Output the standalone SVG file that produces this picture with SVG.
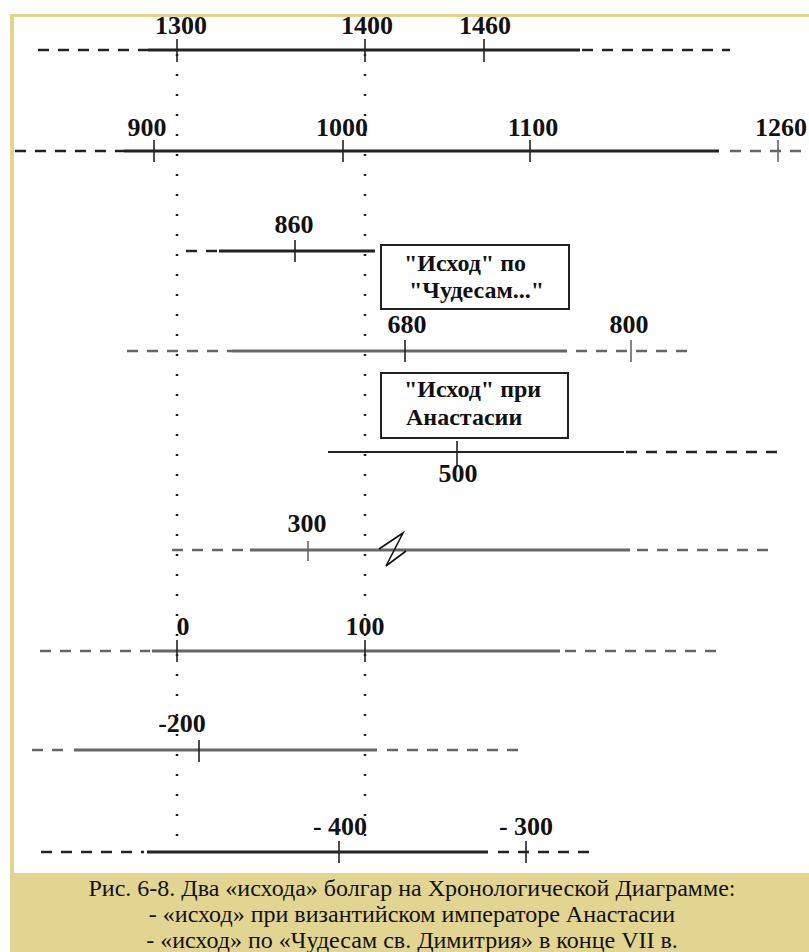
<svg xmlns="http://www.w3.org/2000/svg" width="809" height="952" viewBox="0 0 809 952">
<style>
.solid{stroke-width:3;fill:none}
.dash{stroke-width:2.5;stroke-dasharray:11 9;fill:none}
.tick{stroke-width:1.6;fill:none}
.dk{stroke:#222}
.gr{stroke:#666}
.lbl{font-family:"Liberation Serif",serif;font-weight:bold;font-size:26px;fill:#111;text-anchor:middle}
.box{fill:#fff;stroke:#222;stroke-width:2}
.btxt{font-family:"Liberation Serif",serif;font-weight:bold;font-size:24px;fill:#111}
.cap{font-family:"Liberation Serif",serif;font-size:24px;fill:#111;text-anchor:middle}
.dots{stroke:#222;stroke-width:2.5;stroke-dasharray:2 18;fill:none}
</style>
<rect x="0" y="0" width="809" height="952" fill="#fff"/>
<g id="frame">
<rect x="10" y="14" width="799" height="3" fill="#e2d591"/>
<rect x="10" y="14" width="4" height="938" fill="#e2d591"/>
<rect x="10" y="873" width="799" height="79" fill="#e2d591"/>
</g>
<g id="connectors">
<line class="dots" x1="177" y1="54" x2="177" y2="838"/>
<line class="dots" x1="365" y1="54" x2="365" y2="838"/>
</g>
<g id="row1">
<line class="dash dk" x1="38" y1="50" x2="148" y2="50"/>
<line class="solid dk" x1="148" y1="50" x2="580" y2="50"/>
<line class="dash dk" x1="582" y1="50" x2="730" y2="50"/>
<line class="tick dk" x1="177" y1="39" x2="177" y2="62"/>
<line class="tick dk" x1="365" y1="39" x2="365" y2="62"/>
<line class="tick dk" x1="484" y1="39" x2="484" y2="62"/>
<text class="lbl" x="181" y="34">1300</text>
<text class="lbl" x="367" y="34">1400</text>
<text class="lbl" x="485" y="34">1460</text>
</g>
<g id="row2">
<line class="dash dk" x1="15" y1="151" x2="124" y2="151"/>
<line class="solid dk" x1="124" y1="151" x2="719" y2="151"/>
<line class="dash gr" x1="730" y1="151" x2="809" y2="151"/>
<line class="tick dk" x1="154" y1="140" x2="154" y2="162"/>
<line class="tick dk" x1="343" y1="140" x2="343" y2="162"/>
<line class="tick dk" x1="530" y1="140" x2="530" y2="162"/>
<line class="tick gr" x1="778" y1="140" x2="778" y2="162"/>
<text class="lbl" x="147" y="136">900</text>
<text class="lbl" x="342" y="136">1000</text>
<text class="lbl" x="533" y="136">1100</text>
<text class="lbl" x="781" y="136">1260</text>
</g>
<g id="row3">
<line class="dash dk" x1="186" y1="251" x2="218" y2="251"/>
<line class="solid dk" x1="219" y1="251" x2="375" y2="251"/>
<line class="tick dk" x1="295" y1="240" x2="295" y2="262"/>
<text class="lbl" x="294" y="233">860</text>
</g>
<g id="box1">
<rect class="box" x="381" y="245" width="188" height="64"/>
<text class="btxt" x="404" y="271">"Исход" по</text>
<text class="btxt" x="409" y="298">"Чудесам..."</text>
</g>
<g id="row4">
<line class="dash gr" x1="127" y1="351" x2="232" y2="351"/>
<line class="solid gr" x1="232" y1="351" x2="567" y2="351"/>
<line class="dash gr" x1="576" y1="351" x2="691" y2="351"/>
<line class="tick dk" x1="405" y1="340" x2="405" y2="362"/>
<line class="tick gr" x1="631" y1="340" x2="631" y2="362"/>
<text class="lbl" x="407" y="333">680</text>
<text class="lbl" x="629" y="333">800</text>
</g>
<g id="box2">
<rect class="box" x="381" y="373" width="187" height="65"/>
<text class="btxt" x="404" y="397">"Исход" при</text>
<text class="btxt" x="406" y="425">Анастасии</text>
</g>
<g id="row5">
<line class="solid dk" x1="328" y1="452" x2="624" y2="452" style="stroke-width:2"/>
<line class="dash dk" x1="626" y1="452" x2="778" y2="452"/>
<line class="tick dk" x1="457" y1="441" x2="457" y2="466"/>
<text class="lbl" x="458" y="482">500</text>
</g>
<g id="row6">
<line class="dash gr" x1="172" y1="550" x2="248" y2="550"/>
<line class="solid gr" x1="250" y1="550" x2="630" y2="550"/>
<line class="dash gr" x1="637" y1="550" x2="775" y2="550"/>
<line class="tick gr" x1="308" y1="541" x2="308" y2="561"/>
<text class="lbl" x="307" y="532">300</text>
<path d="M379,549 L403,533 L386,566 L406,551" fill="none" stroke="#111" stroke-width="1.6"/>
</g>
<g id="row7">
<line class="dash gr" x1="40" y1="651" x2="150" y2="651"/>
<line class="solid gr" x1="152" y1="651" x2="560" y2="651"/>
<line class="dash gr" x1="565" y1="651" x2="720" y2="651"/>
<line class="tick dk" x1="177" y1="640" x2="177" y2="662"/>
<line class="tick dk" x1="365" y1="640" x2="365" y2="662"/>
<text class="lbl" x="183" y="635">0</text>
<text class="lbl" x="365" y="635">100</text>
</g>
<g id="row8">
<line class="dash gr" x1="32" y1="750" x2="70" y2="750"/>
<line class="solid gr" x1="74" y1="750" x2="377" y2="750"/>
<line class="dash gr" x1="387" y1="750" x2="524" y2="750"/>
<line class="tick dk" x1="199" y1="740" x2="199" y2="762"/>
<text class="lbl" x="182" y="732">-200</text>
</g>
<g id="row9">
<line class="dash dk" x1="41" y1="852" x2="144" y2="852"/>
<line class="solid dk" x1="147" y1="852" x2="488" y2="852"/>
<line class="dash dk" x1="498" y1="852" x2="593" y2="852"/>
<line class="tick dk" x1="339" y1="841" x2="339" y2="863"/>
<line class="tick dk" x1="526" y1="841" x2="526" y2="863"/>
<text class="lbl" x="340" y="835">- 400</text>
<text class="lbl" x="526" y="835">- 300</text>
</g>
<g id="caption">
<text class="cap" x="412" y="896">Рис. 6-8. Два «исхода» болгар на Хронологической Диаграмме:</text>
<text class="cap" x="412" y="922">- «исход» при византийском императоре Анастасии</text>
<text class="cap" x="412" y="948">- «исход» по «Чудесам св. Димитрия» в конце VII в.</text>
</g>
</svg>
